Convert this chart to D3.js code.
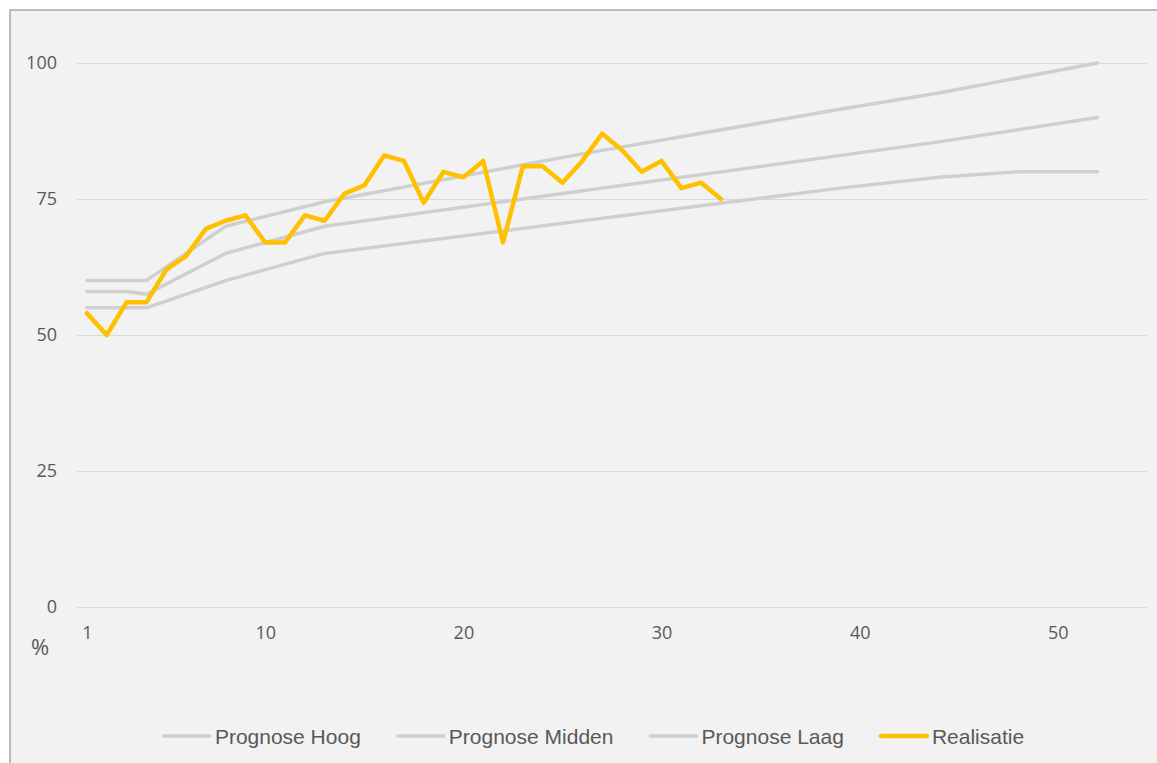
<!DOCTYPE html>
<html>
<head>
<meta charset="utf-8">
<script src="https://cdn.jsdelivr.net/npm/d3@7"></script>
<style>
  html, body { margin: 0; padding: 0; background: #ffffff; }
  svg { display: block; }
</style>
</head>
<body>
<svg id="chart" width="1157" height="763"></svg>
<script>
// Weekly realised percentage
const realisatieWeeks = [1, 2, 3, 4, 5, 6, 7, 8, 9, 10, 11, 12, 13, 14, 15, 16, 17,
  18, 19, 20, 21, 22, 23, 24, 25, 26, 27, 28, 29, 30, 31, 32, 33];
const realisatieValues = [54, 50, 56, 56, 62, 64.5, 69.5, 71, 72, 67, 67, 72, 71, 76, 77.5, 83, 82,
  74.3, 80, 79, 82, 67, 81, 81, 78, 82, 87, 84, 80, 82, 77, 78, 75];

// Forecast scenarios: [week, percentage] at the weeks where the trend changes
const prognoseHoog = [[1, 60], [4, 60], [8, 70], [13, 74.5], [26, 83.3], [39, 91.5], [44, 94.5], [52, 100]];
const prognoseMidden = [[1, 58], [3, 58], [4, 57.5], [8, 65], [13, 70], [44, 85.5], [52, 90]];
const prognoseLaag = [[1, 55], [4, 55], [8, 60], [13, 65], [39, 77], [44, 79], [48, 80], [52, 80]];

const xTickLabels = [1, 10, 20, 30, 40, 50];
const yTickLabels = [0, 25, 50, 75, 100];
const legendNames = ["Prognose Hoog", "Prognose Midden", "Prognose Laag", "Realisatie"];

const grey = "#d0cfcf";
const gold = "#ffc000";
const textColor = "#595959";

const svg = d3.select("#chart");

// chart frame
svg.append("rect")
  .attr("x", 10).attr("y", 10)
  .attr("width", 1160).attr("height", 780)
  .attr("fill", "#f2f2f2")
  .attr("stroke", "#a6a6a6")
  .attr("stroke-width", 1.5);

const x = d3.scaleLinear().domain([0.5, 54.5]).range([77, 1147]);
const y = d3.scaleLinear().domain([0, 100]).range([607, 63]);

// horizontal gridlines + y labels
const yAxis = d3.axisLeft(y).tickValues(yTickLabels).tickSize(-(1147 - 77)).tickPadding(20);
const gy = svg.append("g").attr("transform", "translate(77,0)").call(yAxis);
gy.select(".domain").remove();
gy.selectAll(".tick line").attr("stroke", "#d9d9d9").attr("stroke-width", 1.2);
gy.selectAll(".tick text")
  .attr("fill", textColor)
  .attr("font-family", "'Open Sans', sans-serif")
  .attr("font-size", 18)
  .attr("x", -20);

// x labels
const xAxis = d3.axisBottom(x).tickValues(xTickLabels).tickSize(0).tickPadding(19);
const gx = svg.append("g").attr("transform", "translate(0,607)").call(xAxis);
gx.select(".domain").remove();
gx.selectAll(".tick text")
  .attr("fill", textColor)
  .attr("font-family", "'Open Sans', sans-serif")
  .attr("font-size", 18);

// unit label
svg.append("text")
  .attr("x", 40).attr("y", 655)
  .attr("text-anchor", "middle")
  .attr("fill", textColor)
  .attr("font-family", "'Open Sans', sans-serif")
  .attr("font-size", 22)
  .text("%");

const line = d3.line().x(d => x(d[0])).y(d => y(d[1]));

[prognoseHoog, prognoseMidden, prognoseLaag].forEach(series => {
  svg.append("path")
    .datum(series)
    .attr("d", line)
    .attr("fill", "none")
    .attr("stroke", grey)
    .attr("stroke-width", 3.5)
    .attr("stroke-linecap", "round")
    .attr("stroke-linejoin", "round");
});

const realisatie = realisatieWeeks.map((w, i) => [w, realisatieValues[i]]);
svg.append("path")
  .datum(realisatie)
  .attr("d", line)
  .attr("fill", "none")
  .attr("stroke", gold)
  .attr("stroke-width", 4.5)
  .attr("stroke-linecap", "round")
  .attr("stroke-linejoin", "round");

// legend
const legendColors = [grey, grey, grey, gold];
const legendWidths = [3.5, 3.5, 3.5, 4.5];
const legend = svg.append("g");
let cursor = 0;
legendNames.forEach((name, i) => {
  const item = legend.append("g").attr("transform", `translate(${cursor},0)`);
  item.append("line")
    .attr("x1", 0).attr("x2", 46)
    .attr("y1", 736).attr("y2", 736)
    .attr("stroke", legendColors[i])
    .attr("stroke-width", legendWidths[i])
    .attr("stroke-linecap", "round");
  const t = item.append("text")
    .attr("x", 51).attr("y", 743.5)
    .attr("fill", textColor)
    .attr("font-family", "'Liberation Sans', Arial, sans-serif")
    .attr("font-size", 21)
    .text(name);
  cursor += 51 + t.node().getComputedTextLength() + 37;
});
const legendWidth = cursor - 37;
legend.attr("transform", `translate(${594 - legendWidth / 2},0)`);
</script>
</body>
</html>
